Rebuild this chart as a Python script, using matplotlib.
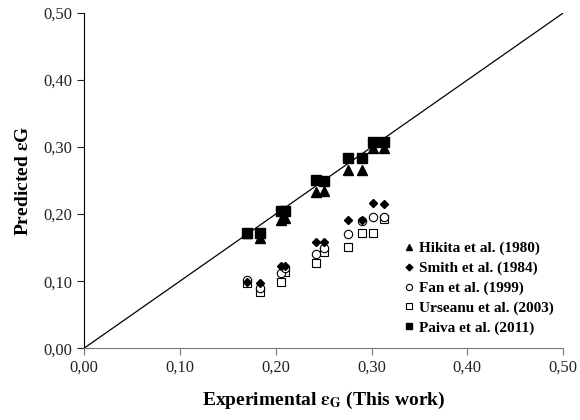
# Predicted vs experimental gas holdup, parity plot
import matplotlib.pyplot as plt
from matplotlib.ticker import FuncFormatter

plt.rcParams['font.family'] = ['Liberation Serif', 'DejaVu Serif']
plt.rcParams['mathtext.fontset'] = 'stix'

# experimental values (x) shared by all correlations
exp_eg = [0.170, 0.184, 0.206, 0.210, 0.242, 0.250, 0.275, 0.290, 0.301, 0.313]

hikita = [0.172, 0.164, 0.191, 0.194, 0.233, 0.234, 0.266, 0.266, 0.298, 0.298]
smith = [0.098, 0.097, 0.122, 0.122, 0.158, 0.158, 0.191, 0.191, 0.216, 0.215]
fan = [0.102, 0.090, 0.112, 0.120, 0.141, 0.150, 0.170, 0.190, 0.195, 0.196]
urseanu = [0.097, 0.084, 0.099, 0.113, 0.127, 0.143, 0.151, 0.172, 0.172, 0.193]
paiva = [0.172, 0.172, 0.205, 0.205, 0.251, 0.250, 0.284, 0.284, 0.307, 0.307]

labels = ["Hikita et al. (1980)", "Smith et al. (1984)", "Fan et al. (1999)",
          "Urseanu et al. (2003)", "Paiva et al. (2011)"]

fig = plt.figure(figsize=(5.8, 4.2), dpi=100)
ax = fig.add_axes([0.145, 0.171, 0.826, 0.798])

ax.plot([0, 0.5], [0, 0.5], color="black", lw=0.9, zorder=1)

ax.plot(exp_eg, urseanu, "s", mfc="white", mec="black", mew=0.8, ms=6, ls="none", label=labels[3])
ax.plot(exp_eg, fan, "o", mfc="white", mec="black", mew=0.8, ms=6, ls="none", label=labels[2])
ax.plot(exp_eg, smith, "D", color="black", ms=4.5, ls="none", label=labels[1])
ax.plot(exp_eg, hikita, "^", color="black", ms=6.5, ls="none", label=labels[0])
ax.plot(exp_eg, paiva, "s", color="black", ms=6.5, ls="none", label=labels[4])

ax.set_xlim(0, 0.5)
ax.set_ylim(0, 0.5)
ticks = [0, 0.1, 0.2, 0.3, 0.4, 0.5]
ax.set_xticks(ticks)
ax.set_yticks(ticks)
fmt = FuncFormatter(lambda v, p: ("%.2f" % v).replace(".", ","))
ax.xaxis.set_major_formatter(fmt)
ax.yaxis.set_major_formatter(fmt)
ax.tick_params(direction="out", length=5, width=0.8, labelsize=12, colors="#222222")
ax.tick_params(axis="x", colors="#777777", labelcolor="#222222")

for s in ["top", "right"]:
    ax.spines[s].set_visible(False)
ax.spines["bottom"].set_color("#777777")
ax.spines["left"].set_color("black")

ax.set_xlabel(r"Experimental $\mathbf{\varepsilon_G}$ (This work)", fontsize=14, fontweight="bold", labelpad=10)
ax.set_ylabel(r"Predicted $\mathbf{\varepsilon}$G", fontsize=14, fontweight="bold", labelpad=8)

h, l = ax.get_legend_handles_labels()
handles = [h[3], h[2], h[1], h[0], h[4]]
leg = ax.legend(handles, labels, loc="lower right", bbox_to_anchor=(1.0, 0.012),
                frameon=False, fontsize=11, handletextpad=0.3, labelspacing=0.4,
                markerscale=0.75, handlelength=0.8, borderaxespad=0.2)
for t in leg.get_texts():
    t.set_fontweight("bold")

fig.savefig("out.png", dpi=100)
